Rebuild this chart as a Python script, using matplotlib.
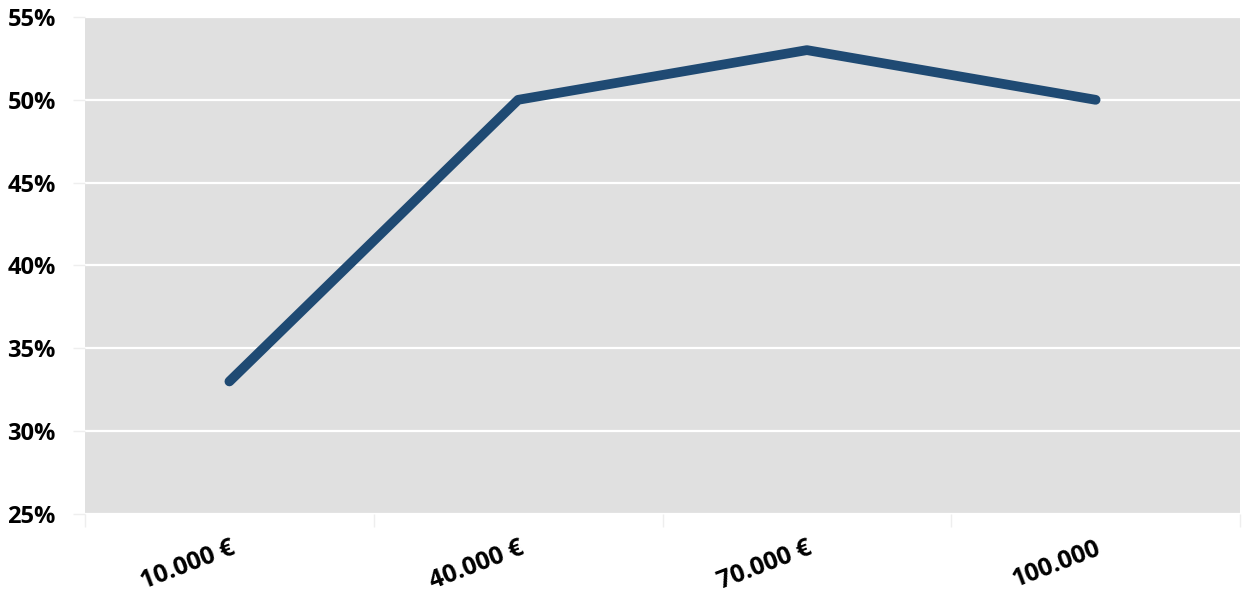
import matplotlib.pyplot as plt
from matplotlib.ticker import FuncFormatter

categories = ["10.000 €", "40.000 €", "70.000 €", "100.000"]
values = [33, 50, 53, 50]
y_ticks = [25, 30, 35, 40, 45, 50, 55]

plt.rcParams['font.family'] = ['Open Sans', 'DejaVu Sans']
plt.rcParams['font.weight'] = 'bold'

fig = plt.figure(figsize=(12.43, 5.98), dpi=100)
ax = fig.add_axes([0.0684, 0.1405, 0.9292, 0.8311])
ax.set_facecolor("#e0e0e0")

x = list(range(len(categories)))
ax.plot(x, values, color="#1f4a73", linewidth=7, solid_capstyle="round",
        solid_joinstyle="round", zorder=3)

ax.set_xlim(-0.5, len(categories) - 0.5)
ax.set_ylim(25, 55)
ax.set_yticks(y_ticks)
ax.yaxis.set_major_formatter(FuncFormatter(lambda v, p: f"{v:.0f}%"))
ax.grid(axis="y", color="white", linewidth=1.6, zorder=1)

ax.set_xticks(x)
ax.set_xticklabels(categories, rotation=21, ha="right", va="top",
                   rotation_mode="anchor", fontsize=18, fontweight="bold")
ax.set_xticks([i - 0.5 for i in range(len(categories) + 1)], minor=True)
ax.tick_params(axis="x", which="major", length=0, pad=16)
ax.tick_params(axis="x", which="minor", length=9, color="#eeeeee", width=1)
ax.tick_params(axis="y", length=9, color="#eeeeee", width=1, pad=12,
               labelsize=17)
for lab in ax.get_yticklabels():
    lab.set_fontweight("bold")

for s in ax.spines.values():
    s.set_visible(False)

fig.savefig("out.png", dpi=100)
